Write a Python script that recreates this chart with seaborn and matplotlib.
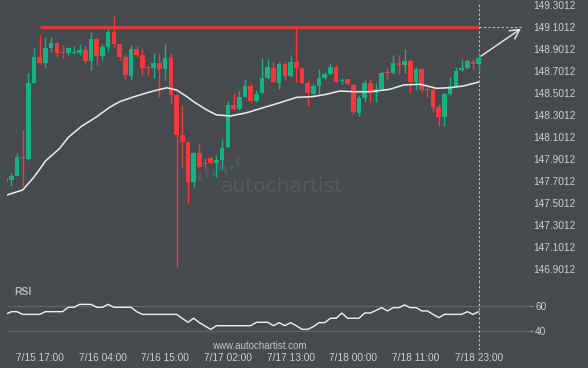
import matplotlib
matplotlib.use("Agg")
import matplotlib.pyplot as plt
import seaborn as sns
import numpy as np
from matplotlib.patches import FancyBboxPatch

# ---------------- data ----------------
opens = [147.685, 147.707, 147.747, 147.917, 147.898, 148.592, 148.828, 148.774, 148.910, 148.955,
         148.874, 148.865, 148.862, 148.865, 148.889, 148.789, 148.989, 148.838, 148.919, 149.050,
         148.944, 148.828, 148.656, 148.899, 148.844, 148.735, 148.728, 148.768, 148.717, 148.817,
         148.480, 148.121, 148.056, 147.692, 147.950, 147.856, 147.910, 147.860, 147.889, 148.005,
         148.389, 148.353, 148.465, 148.562, 148.426, 148.501, 148.632, 148.723, 148.592, 148.762,
         148.653, 148.783, 148.723, 148.592, 148.489, 148.562, 148.632, 148.671, 148.738, 148.605,
         148.623, 148.571, 148.317, 148.453, 148.589, 148.496, 148.532, 148.687, 148.683, 148.774,
         148.753, 148.792, 148.601, 148.714, 148.529, 148.526, 148.374, 148.276, 148.487, 148.562,
         148.707, 148.728, 148.783, 148.759]
highs = [147.735, 147.771, 147.953, 148.162, 148.678, 148.910, 149.026, 149.005, 149.005, 148.965,
         148.935, 148.917, 148.926, 148.941, 148.935, 149.050, 149.008, 148.944, 149.087, 149.199,
         148.953, 148.853, 148.939, 148.926, 148.903, 148.744, 148.859, 148.853, 148.950, 148.865,
         148.499, 148.389, 148.062, 147.965, 148.032, 147.910, 147.919, 147.935, 148.078, 148.429,
         148.496, 148.519, 148.623, 148.580, 148.526, 148.819, 148.812, 148.789, 148.783, 148.780,
         148.844, 149.089, 148.735, 148.617, 148.580, 148.714, 148.685, 148.768, 148.753, 148.632,
         148.626, 148.580, 148.480, 148.617, 148.623, 148.592, 148.698, 148.723, 148.844, 148.844,
         148.896, 148.808, 148.735, 148.726, 148.556, 148.544, 148.398, 148.499, 148.648, 148.738,
         148.799, 148.803, 148.812, 148.859]
lows = [147.671, 147.656, 147.744, 147.656, 147.889, 148.585, 148.759, 148.723, 148.874, 148.828,
        148.814, 148.844, 148.850, 148.844, 148.768, 148.708, 148.753, 148.799, 148.883, 148.919,
        148.799, 148.623, 148.617, 148.826, 148.662, 148.662, 148.635, 148.465, 148.617, 148.399,
        146.917, 147.829, 147.496, 147.647, 147.817, 147.799, 147.858, 147.738, 147.799, 147.996,
        148.344, 148.344, 148.462, 148.408, 148.417, 148.496, 148.626, 148.598, 148.532, 148.617,
        148.644, 148.601, 148.589, 148.380, 148.480, 148.489, 148.626, 148.662, 148.598, 148.578,
        148.571, 148.308, 148.289, 148.417, 148.417, 148.419, 148.526, 148.623, 148.671, 148.671,
        148.678, 148.501, 148.526, 148.508, 148.465, 148.329, 148.194, 148.194, 148.480, 148.553,
        148.698, 148.721, 148.721, 148.708]
closes = [147.717, 147.747, 147.919, 147.903, 148.592, 148.828, 148.774, 148.910, 148.955, 148.865,
          148.865, 148.910, 148.869, 148.889, 148.789, 148.989, 148.838, 148.919, 149.050, 148.941,
          148.828, 148.662, 148.899, 148.844, 148.730, 148.728, 148.768, 148.717, 148.817, 148.480,
          148.117, 148.056, 147.692, 147.950, 147.829, 147.850, 147.865, 147.889, 147.996, 148.389,
          148.353, 148.465, 148.562, 148.426, 148.489, 148.632, 148.732, 148.601, 148.762, 148.653,
          148.783, 148.723, 148.592, 148.496, 148.562, 148.632, 148.671, 148.738, 148.601, 148.610,
          148.578, 148.329, 148.453, 148.589, 148.499, 148.532, 148.683, 148.680, 148.774, 148.753,
          148.792, 148.601, 148.714, 148.526, 148.523, 148.374, 148.276, 148.487, 148.562, 148.698,
          148.728, 148.789, 148.759, 148.819]

ma_idx = [0, 3, 5, 7, 9.5, 11, 13.3, 16, 18.3, 20, 22.4, 24.8, 26.5, 28.3, 30, 31.8, 33, 35.3, 37,
          39.4, 42.3, 45.8, 48.1, 51.1, 54, 56.3, 58.7, 61, 63.9, 67.4, 69.8, 72.7, 75.6, 78, 80.3, 83]
ma_val = [147.567, 147.617, 147.735, 147.880, 147.996, 148.095, 148.195, 148.283, 148.370, 148.419,
          148.462, 148.500, 148.524, 148.546, 148.526, 148.465, 148.419, 148.344, 148.300, 148.289,
          148.319, 148.374, 148.410, 148.459, 148.466, 148.487, 148.517, 148.510, 148.510, 148.532,
          148.571, 148.578, 148.541, 148.547, 148.562, 148.598]

rsi = [53.4, 55.6, 55.6, 53.4, 53.4, 53.4, 53.4, 55.6, 55.6, 55.6,
       55.6, 59.2, 59.2, 61.6, 61.6, 61.6, 59.2, 59.2, 61.6, 59.2,
       59.2, 59.2, 59.2, 55.6, 53.4, 53.4, 53.4, 53.4, 53.4, 53.4,
       53.4, 50.0, 46.9, 50.2, 46.6, 43.8, 41.1, 44.1, 44.1, 44.1,
       44.1, 44.1, 44.1, 44.1, 46.9, 46.9, 46.9, 44.1, 46.6, 44.1,
       46.6, 44.1, 41.1, 41.1, 43.3, 46.6, 46.6, 50.2, 50.2, 54.5,
       50.2, 50.2, 50.2, 54.5, 54.5, 56.7, 58.9, 56.2, 58.9, 58.9,
       61.1, 58.9, 58.9, 56.2, 56.2, 53.4, 50.7, 53.4, 53.4, 53.4,
       53.4, 55.6, 53.4, 55.6]

resistance = 149.097
res_start, res_end = 6, 83
target_idx = 90.8

date_labels = ["7/15 17:00", "7/16 04:00", "7/16 15:00", "7/17 02:00",
               "7/17 13:00", "7/18 00:00", "7/18 11:00", "7/18 23:00"]
date_pos = [6, 17, 28, 39, 50, 61, 72, 83]
price_ticks = [149.3012, 149.1012, 148.9012, 148.7012, 148.5012, 148.3012, 148.1012,
               147.9012, 147.7012, 147.5012, 147.3012, 147.1012, 146.9012]
rsi_ticks = [60, 40]

# ---------------- style ----------------
BG = "#46494e"
GREEN = "#14b383"
RED = "#f5393b"
TXT = "#cfd0d2"

sns.set_theme(style="dark")
plt.rcParams["font.family"] = ["Liberation Sans", "DejaVu Sans"]

W, H = 588, 368
fig = plt.figure(figsize=(W / 100, H / 100), dpi=100, facecolor=BG)

L_px, R_px = 7, 529
ax = fig.add_axes([L_px / W, 1 - 282 / H, (R_px - L_px) / W, 282 / H])
axr = fig.add_axes([L_px / W, 1 - 350 / H, (R_px - L_px) / W, 68 / H])

for a in (ax, axr):
    a.set_facecolor(BG)
    for s in a.spines.values():
        s.set_visible(False)
    a.grid(False)

xmin = 0.25
xmax = xmin + (R_px - L_px) / 5.7
n = len(opens)
idx = np.arange(n)

# candles
o = np.array(opens); c = np.array(closes); h = np.array(highs); l = np.array(lows)
up = c >= o
cols = np.where(up, GREEN, RED)
bottom = np.minimum(o, c)
height = np.maximum(np.abs(c - o), 0.009)
ax.vlines(idx, l, h, colors=cols, linewidth=1.0, zorder=2)
ax.bar(idx, height, bottom=bottom, width=0.8, color=cols, linewidth=0, zorder=3)

# moving average
sns.lineplot(x=ma_idx, y=ma_val, ax=ax, color="#e8e8e8", linewidth=1.15, zorder=4)

# resistance line
ax.hlines(resistance, res_start, res_end, color="#e23b3b", linewidth=2.4, alpha=0.9, zorder=5)
ax.hlines(resistance, res_end, target_idx, color="#bfc0c2", linewidth=0.8,
          linestyles=(0, (2, 2)), zorder=5)
ax.annotate("", xy=(target_idx, resistance), xytext=(83, closes[-1]),
            arrowprops=dict(arrowstyle="->,head_length=0.55,head_width=0.3",
                            color="#e0e0e0", lw=1.1), zorder=6)

ax.set_xlim(xmin, xmax)
ytop = 149.3439
ax.set_ylim(ytop - 282 / 110, ytop)
ax.axvline(83, ymin=0, ymax=1 - 4 / 282, color="#c8c8c8", linewidth=0.8,
           linestyle=(0, (2, 2)), zorder=1)

ax.set_xticks([])
ax.yaxis.tick_right()
ax.set_yticks(price_ticks)
ax.set_yticklabels([f"{t:.4f}" for t in price_ticks])
ax.tick_params(axis="y", length=0, pad=3, labelsize=7.3, labelcolor=TXT)

# watermark
ax.text(0.41, 0.34, "autochartist", transform=ax.transAxes, fontsize=14.5,
        family="DejaVu Sans", color="#55585d", ha="left", va="center", zorder=0)
bar_specs = [(198, 172, 182), (205, 167, 178), (212, 170, 176), (218, 162, 172),
             (224, 166, 174), (230, 165, 170), (236, 157, 167)]
for bx, y0, y1 in bar_specs:
    fig.patches.append(FancyBboxPatch((bx / W, 1 - y1 / H), 3.5 / W, (y1 - y0) / H,
                                      boxstyle="round,pad=0,rounding_size=0.002",
                                      transform=fig.transFigure, facecolor="#52555a",
                                      edgecolor="none", zorder=0))

# RSI panel
sns.lineplot(x=idx, y=rsi, ax=axr, color="#f0f0f0", linewidth=1.0, zorder=3)
axr.set_xlim(xmin, xmax)
rtop = 60 + (306.3 - 282) / 1.22
rbot = 40 - (350 - 330.7) / 1.22
axr.set_ylim(rbot, rtop)
for v in rsi_ticks:
    axr.axhline(v, color="#5f6267", linewidth=1.0, zorder=1)
axr.axvline(83, color="#c8c8c8", linewidth=0.8, linestyle=(0, (2, 2)), zorder=2)
axr.yaxis.tick_right()
axr.set_yticks(rsi_ticks)
axr.set_yticklabels([str(v) for v in rsi_ticks])
axr.tick_params(axis="y", length=3, width=1, color="#8a8c90", pad=1.5,
                labelsize=7.3, labelcolor=TXT)
axr.set_xticks(date_pos)
axr.set_xticklabels(date_labels)
axr.tick_params(axis="x", length=0, pad=2.2, labelsize=7.3, labelcolor=TXT)
axr.text(0.014, 0.86, "RSI", transform=axr.transAxes, fontsize=7.5, fontweight="bold",
         color="#b4b6b9", ha="left", va="center")
axr.text(0.483, 0.06, "www.autochartist.com", transform=axr.transAxes, fontsize=7.0,
         color="#c4c5c7", ha="center", va="center")
axr.set_xlabel(""); axr.set_ylabel("")
ax.set_xlabel(""); ax.set_ylabel("")

fig.savefig("out.png", dpi=100, facecolor=BG)
